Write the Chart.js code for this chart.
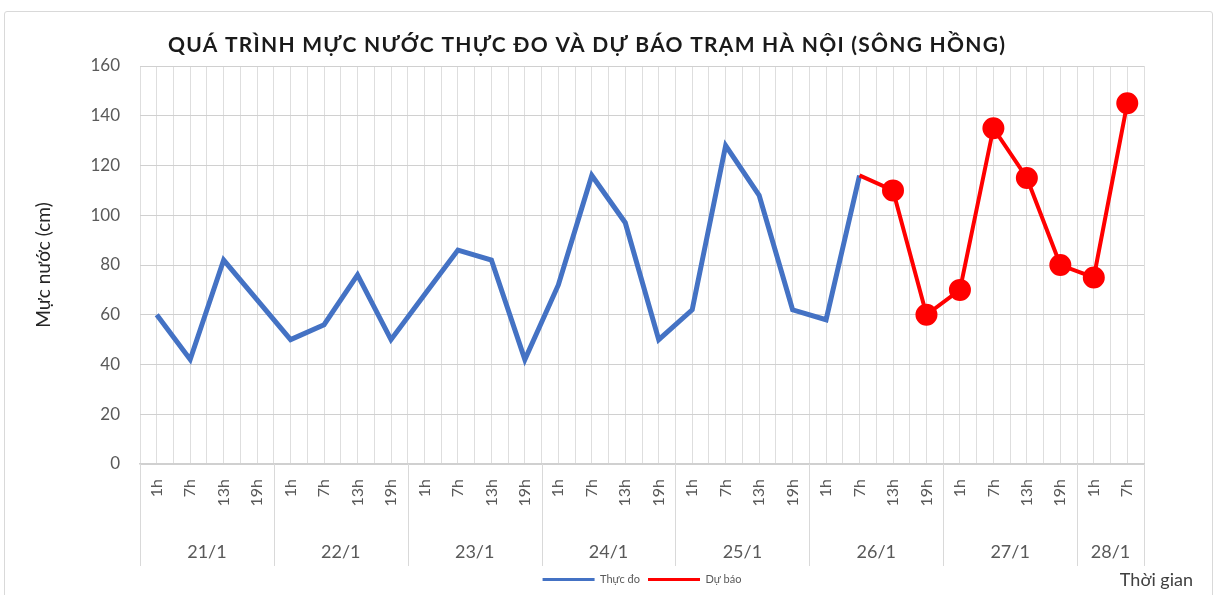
<!DOCTYPE html>
<html>
<head>
<meta charset="utf-8">
<script src="https://cdn.jsdelivr.net/npm/chart.js@4.4.0/dist/chart.umd.min.js"></script>
<style>
  html, body { margin: 0; padding: 0; background: #fff; }
  body { width: 1217px; height: 595px; position: relative; overflow: hidden; }
  #frame { position: absolute; left: 4px; top: 11px; width: 1207px; height: 640px; border: 1px solid #d9d9d9; border-radius: 3px; }
  #chart { position: absolute; left: 0; top: 0; }
</style>
</head>
<body>
<div id="frame"></div>
<canvas id="chart" width="1217" height="595"></canvas>
<script>
const TITLE = "QUÁ TRÌNH MỰC NƯỚC THỰC ĐO VÀ DỰ BÁO TRẠM HÀ NỘI (SÔNG HỒNG)";
const Y_TITLE = "Mực nước (cm)";
const X_TITLE = "Thời gian";

const hourLabels = [
    "1h", "7h", "13h", "19h",
    "1h", "7h", "13h", "19h",
    "1h", "7h", "13h", "19h",
    "1h", "7h", "13h", "19h",
    "1h", "7h", "13h", "19h",
    "1h", "7h", "13h", "19h",
    "1h", "7h", "13h", "19h",
    "1h", "7h"
];
const dayLabels = ["21/1", "22/1", "23/1", "24/1", "25/1", "26/1", "27/1", "28/1"];
const hoursPerDay = [4, 4, 4, 4, 4, 4, 4, 2];

// Thực đo (measured)
const measured = [
    60, 42, 82, 66,
    50, 56, 76, 50,
    68, 86, 82, 42,
    72, 116, 97, 50,
    62, 128, 108, 62,
    58, 116
];
// Dự báo (forecast), starts at 26/1 7h
const forecast = [
    null, null, null, null,
    null, null, null, null,
    null, null, null, null,
    null, null, null, null,
    null, null, null, null,
    null, 116, 110, 60,
    70, 135, 115, 80,
    75, 145
];
const yTicks = [0, 20, 40, 60, 80, 100, 120, 140, 160];

const FONT = "Lato, 'Noto Sans', sans-serif";
const BLUE = "#4472C4";
const RED = "#FF0000";

// day centers and boundaries on the category index scale
const dayCenter = {};
const dayBounds = [0];
let start = 0;
hoursPerDay.forEach((n, i) => {
    dayCenter[(start + (n - 1) / 2).toFixed(1)] = dayLabels[i];
    start += n;
    dayBounds.push(start);
});
const firstForecast = forecast.findIndex(v => v !== null);

const extras = {
    id: "extras",
    afterDraw(chart) {
        const { ctx, chartArea } = chart;
        const x = chart.scales.x;
        const day = chart.scales.day;
        ctx.save();
        // day separators across the two label rows
        ctx.strokeStyle = "#d9d9d9";
        ctx.lineWidth = 1;
        dayBounds.forEach(b => {
            const px = Math.round(x.getPixelForValue(b - 0.5)) + 0.5;
            ctx.beginPath();
            ctx.moveTo(px, chartArea.bottom);
            ctx.lineTo(px, day.bottom);
            ctx.stroke();
        });
        // chart title, stretched to the width it has in the original
        ctx.fillStyle = "#1a1a1a";
        ctx.font = "bold 21px " + FONT;
        ctx.textAlign = "left";
        ctx.textBaseline = "middle";
        const w = ctx.measureText(TITLE).width;
        if ("letterSpacing" in ctx && w < 837) {
            ctx.letterSpacing = ((837 - w) / (TITLE.length - 1)).toFixed(2) + "px";
        }
        ctx.fillText(TITLE, 168, 45);
        ctx.letterSpacing = "0px";
        // axis name at lower right
        ctx.fillStyle = "#404040";
        ctx.font = "18px " + FONT;
        ctx.textAlign = "right";
        ctx.fillText(X_TITLE, 1193, 580);
        ctx.restore();
    }
};

Chart.defaults.font.family = FONT;

new Chart(document.getElementById("chart"), {
    type: "line",
    data: {
        labels: hourLabels,
        datasets: [
            {
                label: "Dự báo",
                data: forecast,
                borderColor: RED,
                backgroundColor: RED,
                borderWidth: 4,
                pointRadius: ctx => ctx.dataIndex === firstForecast ? 0 : 9,
                pointBackgroundColor: RED,
                pointBorderColor: RED,
                tension: 0,
                xAxisID: "x"
            },
            {
                label: "Thực đo",
                data: measured,
                borderColor: BLUE,
                backgroundColor: BLUE,
                borderWidth: 5,
                pointRadius: 0,
                tension: 0,
                xAxisID: "x"
            }
        ]
    },
    options: {
        responsive: false,
        animation: false,
        layout: { padding: { left: 20, right: 73, top: 66, bottom: 0 } },
        plugins: {
            tooltip: { enabled: false },
            legend: {
                position: "bottom",
                fullSize: false,
                labels: {
                    font: { size: 11 },
                    color: "#595959",
                    boxWidth: 52,
                    boxHeight: 3,
                    padding: 8,
                    generateLabels: chart => ["Thực đo", "Dự báo"].map(name => {
                        const i = chart.data.datasets.findIndex(d => d.label === name);
                        const c = chart.data.datasets[i].borderColor;
                        return { text: name, fillStyle: c, strokeStyle: c, lineWidth: 0, hidden: false, datasetIndex: i, fontColor: "#595959" };
                    })
                }
            }
        },
        scales: {
            x: {
                type: "category",
                position: "bottom",
                weight: 0,
                offset: true,
                grid: { display: false, drawTicks: false },
                border: { display: true, color: "#d0d0d0", width: 1.5 },
                ticks: {
                    autoSkip: false,
                    minRotation: 90,
                    maxRotation: 90,
                    padding: 15,
                    color: "#595959",
                    font: { size: 16 }
                },
                afterFit: s => { s.height = 68; }
            },
            day: {
                type: "linear",
                position: "bottom",
                weight: 1,
                min: -0.5,
                max: hourLabels.length - 0.5,
                afterBuildTicks: s => {
                    const t = [];
                    for (let v = -0.5; v <= hourLabels.length - 0.5; v += 0.5) t.push({ value: v });
                    s.ticks = t;
                },
                grid: { color: "#dedede", drawTicks: false, drawOnChartArea: true },
                border: { display: false },
                ticks: {
                    autoSkip: false,
                    maxRotation: 0,
                    padding: 9,
                    color: "#595959",
                    font: { size: 18 },
                    callback: v => dayCenter[Number(v).toFixed(1)] || ""
                },
                afterFit: s => { s.height = 34; }
            },
            y: {
                min: 0,
                max: 160,
                afterBuildTicks: s => { s.ticks = yTicks.map(v => ({ value: v })); },
                grid: { color: "#d0d0d0", drawTicks: false },
                border: { display: false },
                ticks: { padding: 20, color: "#595959", font: { size: 17 } },
                title: {
                    display: true,
                    text: Y_TITLE,
                    color: "#262626",
                    font: { size: 19 },
                    padding: { top: 12, bottom: 0 }
                },
                afterFit: s => { s.width = 120; }
            }
        }
    },
    plugins: [extras]
});
</script>
</body>
</html>
